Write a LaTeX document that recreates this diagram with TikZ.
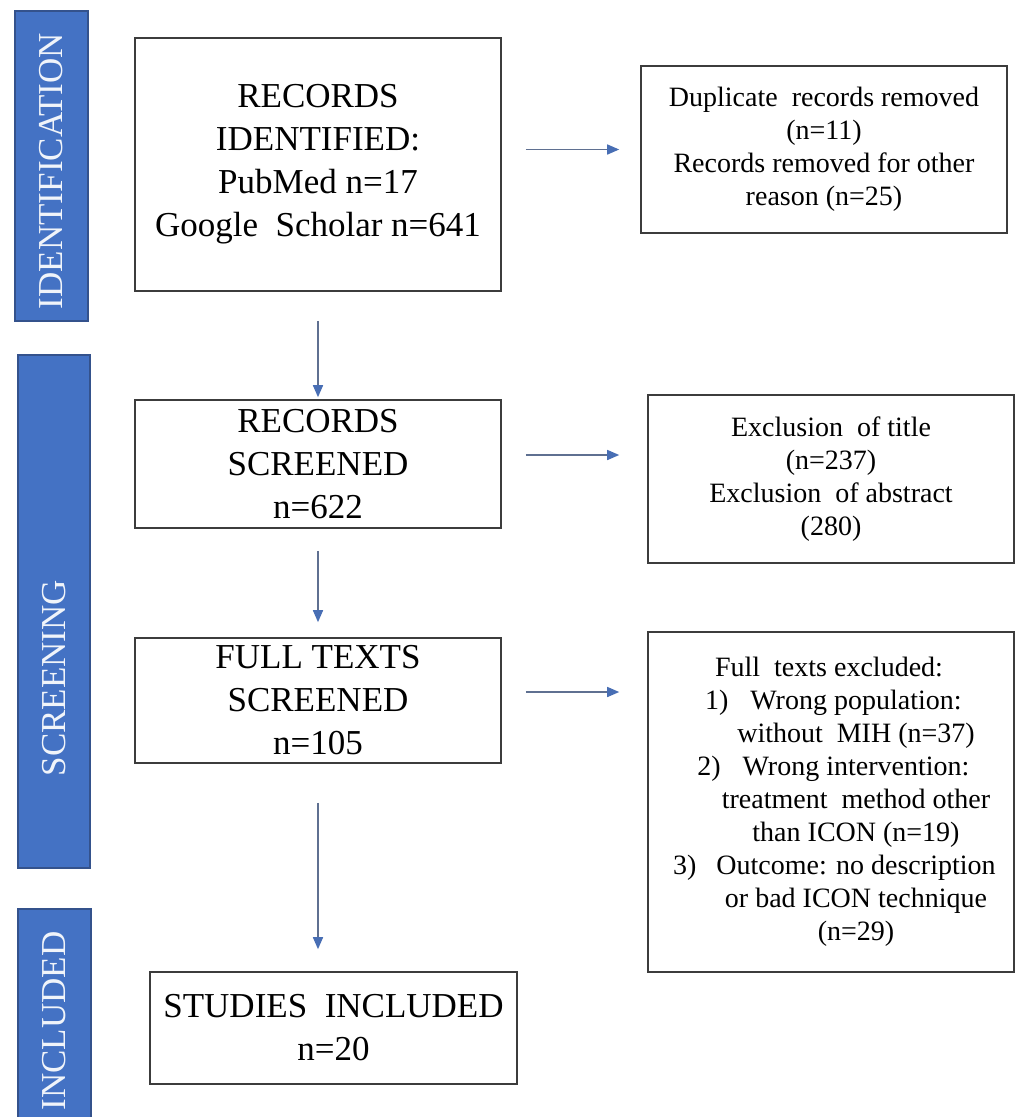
\documentclass[tikz,border=0pt]{standalone}
\usepackage{fontspec}
\setmainfont{Liberation Serif}
\usetikzlibrary{arrows.meta}
\definecolor{boxgray}{RGB}{60,60,60}
\definecolor{barblue}{RGB}{68,114,196}
\definecolor{bardark}{RGB}{52,82,140}
\definecolor{arrowline}{RGB}{95,112,145}
\definecolor{arrowtip}{RGB}{72,110,180}
\definecolor{bartext}{RGB}{240,244,250}
\begin{document}
\begin{tikzpicture}[x=1pt,y=-1pt,
  box/.style={draw=boxgray, line width=1.6pt, inner sep=0pt, align=center,
              font=\fontsize{35}{43}\selectfont},
  sidebox/.style={draw=boxgray, line width=1.6pt, inner sep=0pt, align=center,
              font=\fontsize{28}{33}\selectfont},
  sidetext/.style={inner sep=0pt, align=center, font=\fontsize{28}{33}\selectfont},
  bar/.style={fill=barblue, draw=bardark, line width=1.2pt, inner sep=0pt},
  bartxt/.style={rotate=90, text=bartext, inner sep=0pt, font=\fontsize{35}{35}\selectfont},
  arr/.style={-{Triangle[length=12pt,width=10pt,color=arrowtip]}, draw=arrowline, line width=1.5pt}
]
\clip (0,0) rectangle (1015,1117);
\fill[white] (0,0) rectangle (1015,1117);

% side bars
\node[bar, minimum width=73pt, minimum height=310pt] (bid) at (51.5,166) {};
\node[bartxt] (tid) at (51,171) {IDENTIFICATION};
\node[bar, minimum width=72pt, minimum height=513pt] (bsc) at (54,611.5) {};
\node[bartxt] (tsc) at (54,678) {SCREENING};
\node[bar, minimum width=73pt, minimum height=221pt] (bin) at (54.5,1019.5) {};
\node[bartxt] (tin) at (54.5,1021) {INCLUDED};

% main boxes
\node[box, minimum width=366pt, minimum height=253pt] (b1) at (318,164.5)
  {RECORDS\\IDENTIFIED:\\PubMed n=17\\Google\ \ Scholar n=641};
\node[box, minimum width=366pt, minimum height=128pt] (b3) at (318,464)
  {RECORDS\\SCREENED\\n=622};
\node[box, minimum width=366pt, minimum height=125pt] (b4) at (318,700.5)
  {FULL TEXTS\\SCREENED\\n=105};
\node[box, minimum width=367pt, minimum height=112pt] (b5) at (333.5,1028)
  {STUDIES\ \ INCLUDED\\n=20};

% side boxes
\node[sidebox, minimum width=366pt, minimum height=167pt] (b2) at (824,149.5)
  {Duplicate\ \ records removed\\(n=11)\\Records removed for other\\reason (n=25)};
\node[sidebox, minimum width=366pt, minimum height=168pt] (e2) at (831,479)
  {Exclusion\ \ of title\\(n=237)\\Exclusion\ \ of abstract\\(280)};
\node[draw=boxgray, line width=1.6pt, minimum width=366pt, minimum height=340pt] (e3) at (831,802) {};
\node[sidetext] (e3t) at (856,802)
  {Full\ \ texts excluded:\hspace*{54pt}\\
   \llap{1)\hspace{22pt}}Wrong population:\\
   without\ \ MIH (n=37)\\
   \llap{2)\hspace{22pt}}Wrong intervention:\\
   treatment\ \ method other\\
   than ICON (n=19)\\
   \llap{3)\hspace{20pt}}Outcome: no description\\
   or bad ICON technique\\
   (n=29)};

% vertical arrows
\draw[arr, shorten <=29pt, shorten >=2pt] (b1.south) -- (b3.north);
\draw[arr, shorten <=22pt, shorten >=15pt] (b3.south) -- (b4.north);
\draw[arr, shorten <=39pt, shorten >=22pt] (b4.south) -- (b4.south |- b5.north);

% horizontal arrows
\draw[arr, shorten <=24pt, shorten >=21pt] (b1.east |- b2.west) -- (b2.west);
\draw[arr, shorten <=24pt, shorten >=28pt] ([yshift=9pt]b3.east) -- ([yshift=9pt]b3.east -| e2.west);
\draw[arr, shorten <=24pt, shorten >=28pt] ([yshift=8.5pt]b4.east) -- ([yshift=8.5pt]b4.east -| e3.west);
\end{tikzpicture}
\end{document}
